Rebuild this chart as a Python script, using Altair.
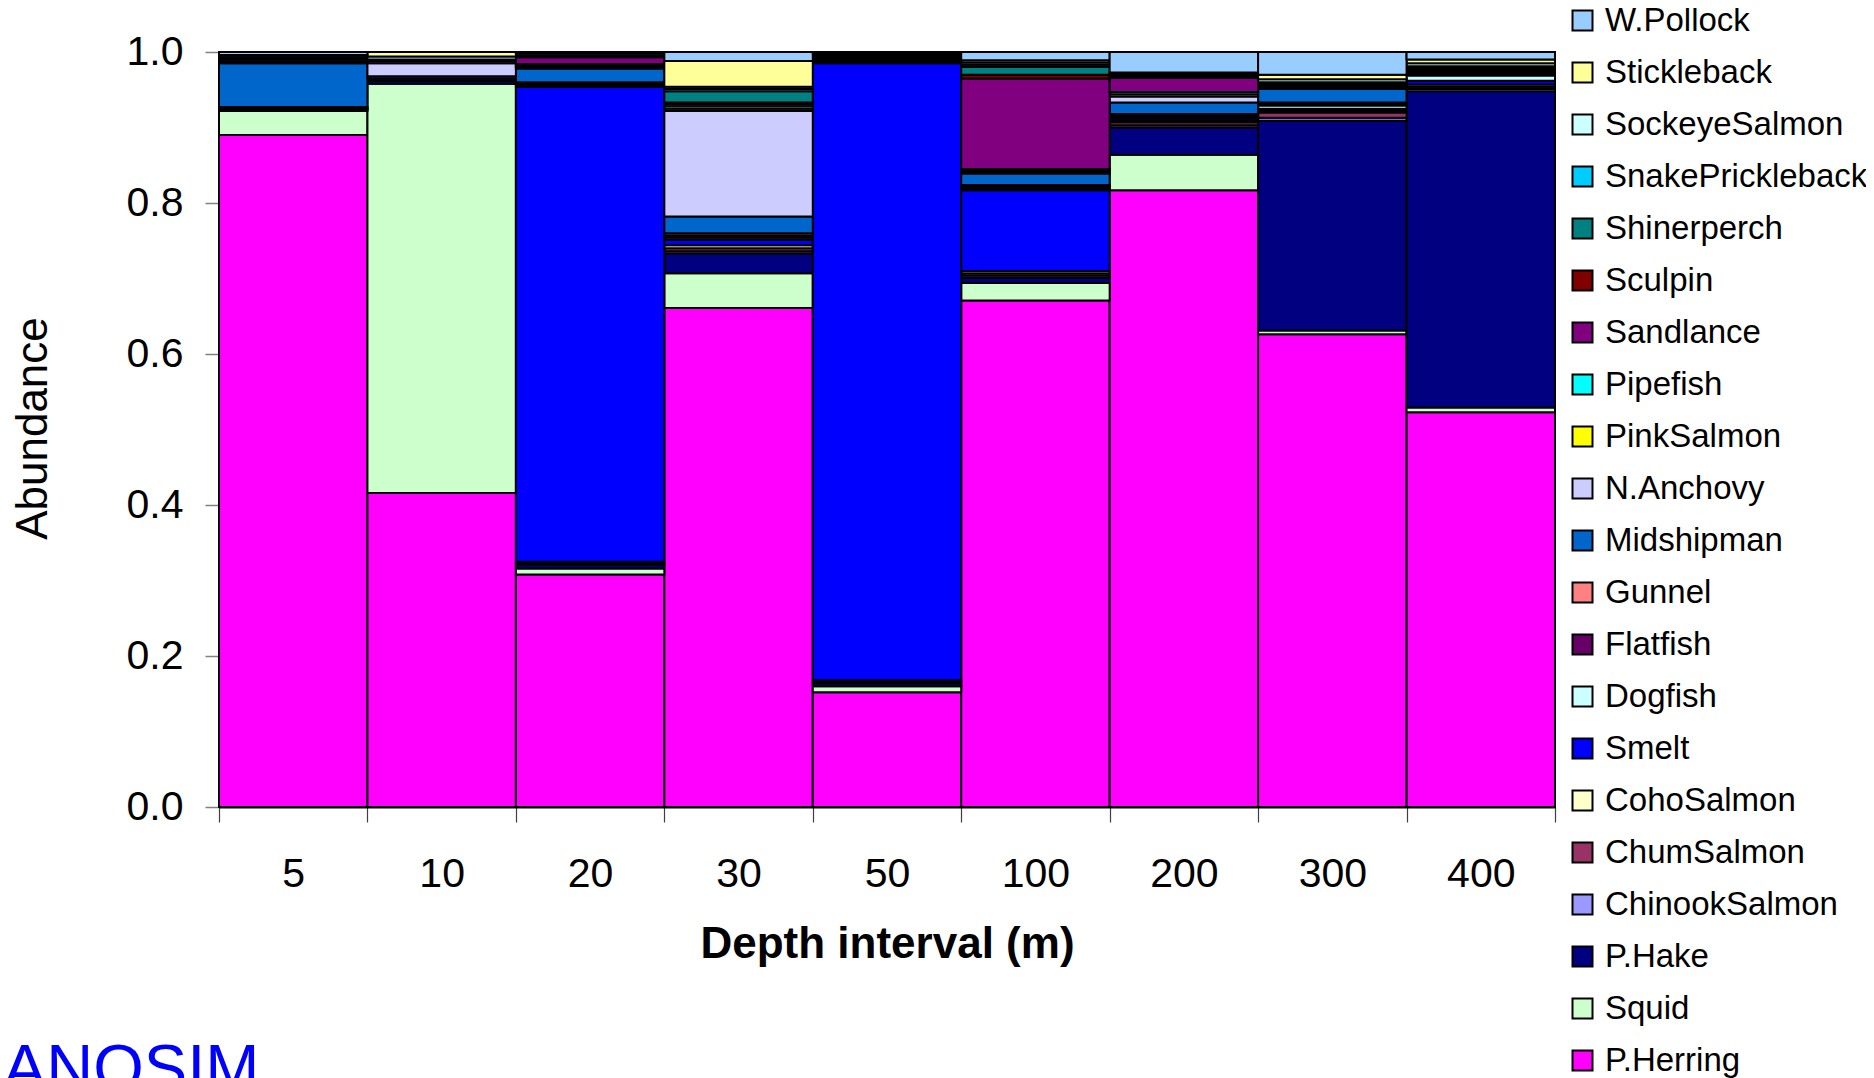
import altair as alt
import pandas as pd

depths = ["5", "10", "20", "30", "50", "100", "200", "300", "400"]

# stacking order: bottom -> top
species = ["P.Herring", "Squid", "P.Hake", "ChinookSalmon", "ChumSalmon", "CohoSalmon",
           "Smelt", "Dogfish", "Flatfish", "Gunnel", "Midshipman", "N.Anchovy",
           "PinkSalmon", "Pipefish", "Sandlance", "Sculpin", "Shinerperch",
           "SnakePrickleback", "SockeyeSalmon", "Stickleback", "W.Pollock"]

colors = ["#FF00FF", "#CCFFCC", "#000080", "#9999FF", "#993366", "#FFFFCC",
          "#0000FF", "#CCFFFF", "#660066", "#FF8080", "#0066CC", "#CCCCFF",
          "#FFFF00", "#00FFFF", "#800080", "#800000", "#008080",
          "#00CCFF", "#CCFFFF", "#FFFF99", "#99CCFF"]

# abundance per depth interval (5,10,20,30,50,100,200,300,400)
p_herring = [0.890, 0.416, 0.308, 0.661, 0.152, 0.671, 0.817, 0.626, 0.523]
squid = [0.032, 0.542, 0.008, 0.046, 0.008, 0.023, 0.047, 0.005, 0.006]
p_hake = [0.002, 0.004, 0.005, 0.026, 0.004, 0.007, 0.036, 0.278, 0.419]
chinook = [0.001, 0.0, 0.002, 0.003, 0.002, 0.003, 0.003, 0.004, 0.003]
chum = [0.0, 0.0, 0.002, 0.004, 0.002, 0.003, 0.004, 0.007, 0.003]
coho = [0.0, 0.0, 0.0, 0.004, 0.0, 0.003, 0.002, 0.002, 0.003]
smelt = [0.002, 0.003, 0.629, 0.007, 0.817, 0.107, 0.003, 0.003, 0.005]
dogfish = [0.0, 0.0, 0.002, 0.003, 0.002, 0.002, 0.002, 0.004, 0.007]
flatfish = [0.0, 0.0, 0.002, 0.003, 0.002, 0.003, 0.002, 0.002, 0.001]
gunnel = [0.0, 0.0, 0.002, 0.003, 0.001, 0.002, 0.002, 0.002, 0.001]
midshipman = [0.058, 0.003, 0.018, 0.022, 0.002, 0.015, 0.015, 0.018, 0.002]
n_anchovy = [0.002, 0.017, 0.002, 0.140, 0.002, 0.002, 0.008, 0.002, 0.001]
pink = [0.0, 0.0, 0.002, 0.003, 0.0, 0.002, 0.003, 0.002, 0.001]
pipefish = [0.0, 0.0, 0.002, 0.003, 0.0, 0.002, 0.003, 0.001, 0.001]
sandlance = [0.003, 0.003, 0.009, 0.003, 0.002, 0.120, 0.019, 0.002, 0.002]
sculpin = [0.002, 0.0, 0.002, 0.002, 0.0, 0.005, 0.002, 0.001, 0.001]
shinerperch = [0.003, 0.002, 0.003, 0.015, 0.002, 0.010, 0.002, 0.001, 0.001]
snake = [0.0, 0.0, 0.0, 0.003, 0.0, 0.003, 0.001, 0.0, 0.001]
sockeye = [0.0, 0.004, 0.0, 0.003, 0.0, 0.003, 0.001, 0.004, 0.004]
stickleback = [0.001, 0.006, 0.0, 0.034, 0.0, 0.003, 0.001, 0.006, 0.005]
w_pollock = [0.004, 0.0, 0.002, 0.012, 0.002, 0.011, 0.027, 0.030, 0.010]

series = [p_herring, squid, p_hake, chinook, chum, coho, smelt, dogfish, flatfish,
          gunnel, midshipman, n_anchovy, pink, pipefish, sandlance, sculpin,
          shinerperch, snake, sockeye, stickleback, w_pollock]

y_ticks = [0.0, 0.2, 0.4, 0.6, 0.8, 1.0]
x_title = "Depth interval (m)"
y_title = "Abundance"
note_text = "ANOSIM"

rows = []
for i, (sp, vals) in enumerate(zip(species, series)):
    for d, v in zip(depths, vals):
        rows.append({"depth": d, "species": sp, "value": v, "idx": i})
df = pd.DataFrame(rows)

legend_order = species[::-1]
legend_colors = colors[::-1]

W, H = 1336, 755
FONT = "Liberation Sans"

bars = alt.Chart(df).transform_filter("datum.value > 0").mark_bar(
    stroke="black", strokeWidth=2
).encode(
    x=alt.X("depth:N", sort=depths,
            scale=alt.Scale(paddingInner=0, paddingOuter=0),
            axis=alt.Axis(title=x_title, labelAngle=0, tickBand="extent",
                          labelFontSize=41, labelFont=FONT,
                          labelColor="black", labelPadding=32,
                          tickSize=15, tickColor="#404040", tickWidth=1.2,
                          domainColor="black", domainWidth=2,
                          titleFont=FONT, titleFontSize=44,
                          titleFontWeight="bold", titleColor="black",
                          titleY=150, titleBaseline="alphabetic")),
    y=alt.Y("value:Q", stack="zero",
            scale=alt.Scale(domain=[0, 1], nice=False),
            axis=alt.Axis(values=y_ticks, format=".1f", grid=False,
                          labelFontSize=41, labelFont=FONT,
                          labelColor="black", labelPadding=22,
                          tickSize=14, tickColor="#808080", tickWidth=1.5,
                          domainColor="black", domainWidth=1,
                          title=y_title, titleFont=FONT,
                          titleFontSize=44, titleFontWeight="normal",
                          titleColor="black", titleX=-173, titleY=376,
                          titleBaseline="alphabetic", titleAlign="center")),
    color=alt.Color("species:N",
                    scale=alt.Scale(domain=legend_order, range=legend_colors),
                    legend=alt.Legend(title=None, orient="none",
                                      legendX=1347, legendY=-48,
                                      symbolType="square", symbolSize=400,
                                      symbolStrokeColor="black",
                                      symbolStrokeWidth=2,
                                      labelFontSize=33,
                                      labelFont=FONT,
                                      labelColor="black", labelOffset=6,
                                      rowPadding=18, labelLimit=400,
                                      padding=0)),
    order=alt.Order("idx:Q", sort="ascending"),
)

note = alt.Chart(alt.Data(values=[{"t": note_text}])).mark_text(
    align="left", baseline="alphabetic", fontSize=65,
    font=FONT, color="#0000FF"
).encode(text="t:N", x=alt.value(-216), y=alt.value(1038))

chart = alt.layer(bars, note).properties(
    width=W, height=H,
    padding={"left": 211, "top": 44, "right": 311, "bottom": 271},
    autosize=alt.AutoSizeParams(type="none"),
    background="white",
).configure_view(stroke=None)

chart.save("out.html", embed_options={"renderer": "svg", "actions": False})
